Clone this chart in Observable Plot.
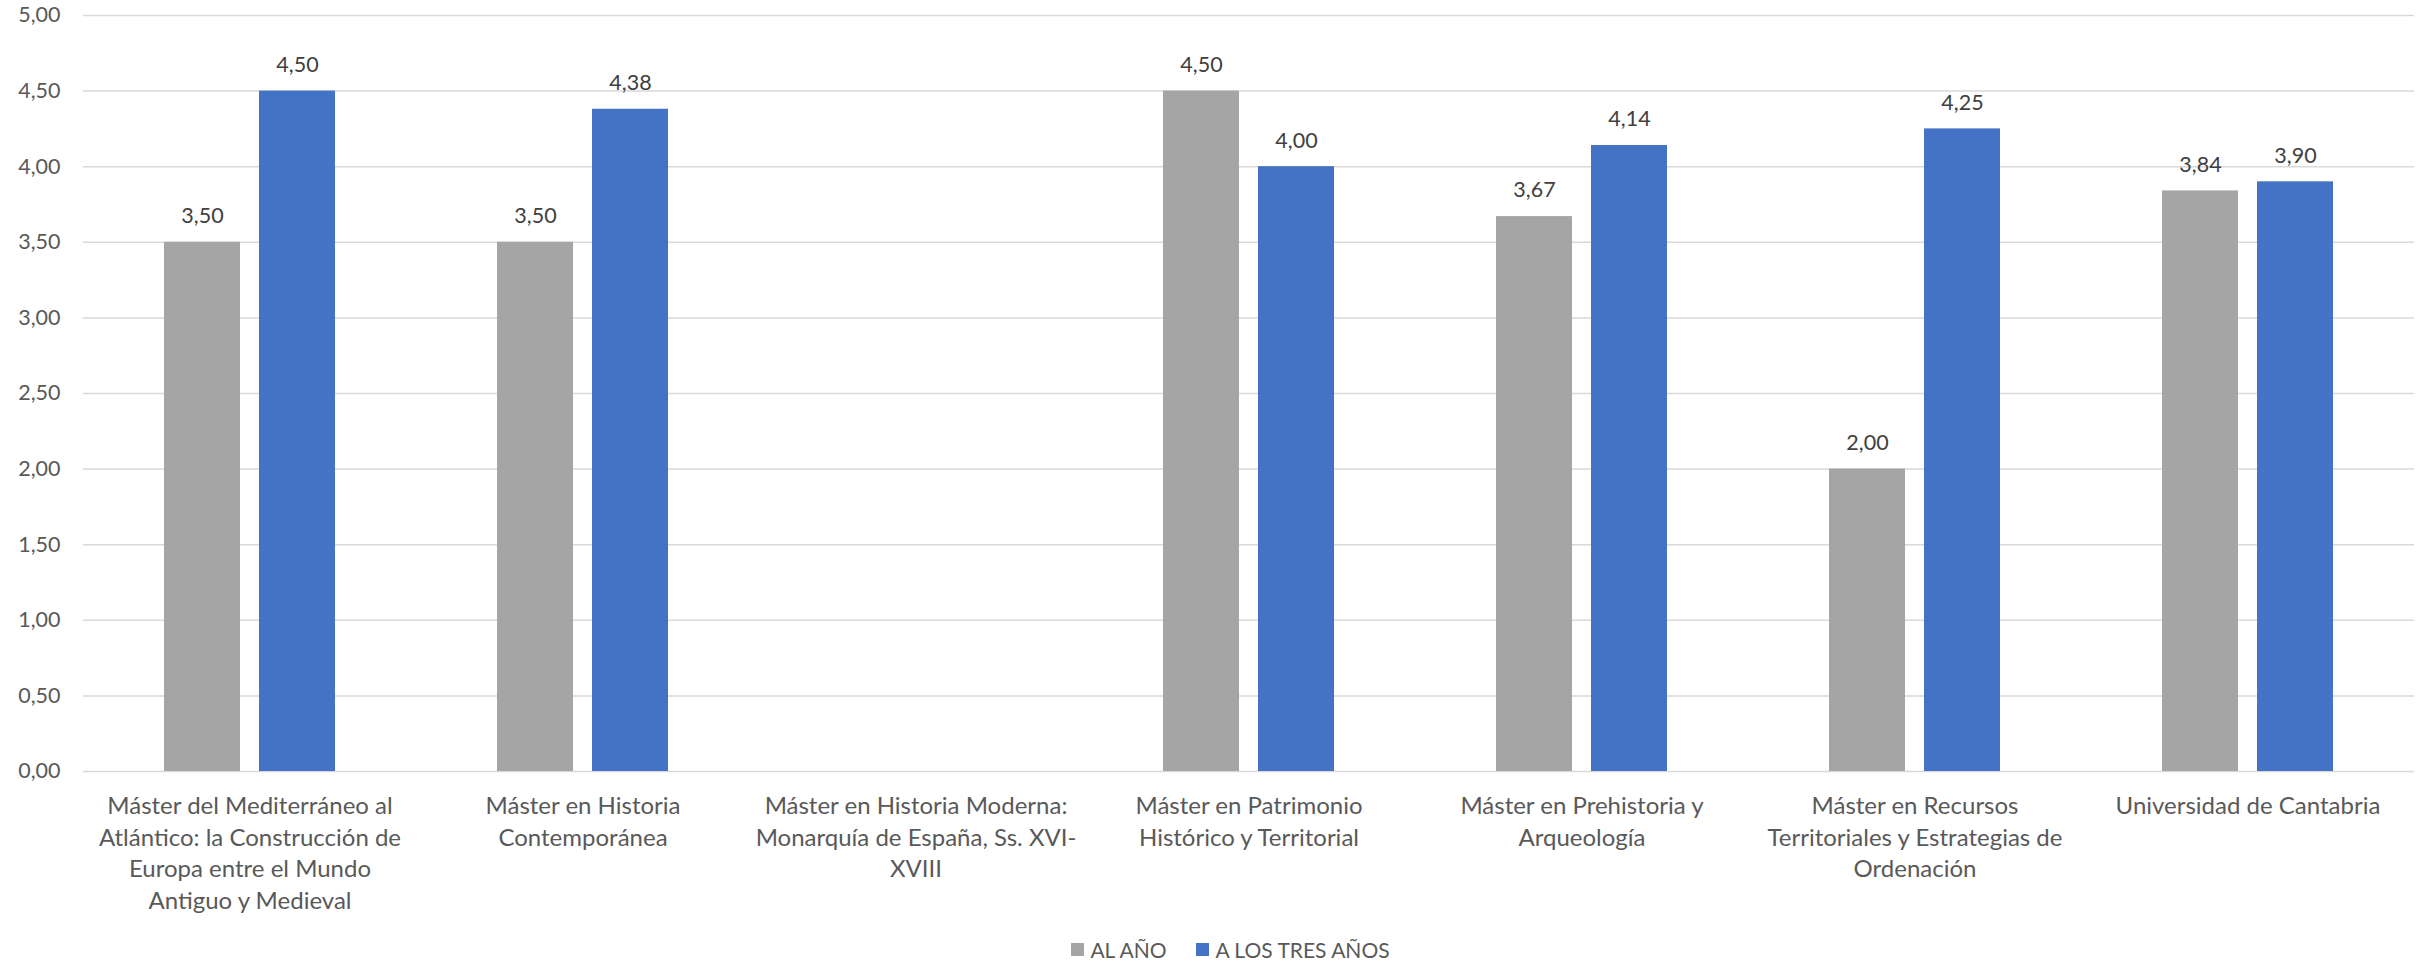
<!DOCTYPE html>
<html><head><meta charset="utf-8">
<script src="https://cdn.jsdelivr.net/npm/d3@7"></script>
<script src="https://cdn.jsdelivr.net/npm/@observablehq/plot@0.6"></script>
<style>
body{margin:0;background:#fff;font-family:Lato,"Noto Sans",sans-serif;}
#legend{width:2425px;height:38px;display:flex;justify-content:center;align-items:center;padding-left:36px;box-sizing:border-box;font-size:21px;color:#595959;}
.item{display:flex;align-items:center;margin:0 15px;}
.sw{width:13px;height:13px;margin-right:6px;display:inline-block;}
</style>
</head><body><div id="chart"></div><div id="legend"></div>
<script>
const categories = [
  "Máster del Mediterráneo al Atlántico: la Construcción de Europa entre el Mundo Antiguo y Medieval",
  "Máster en Historia Contemporánea",
  "Máster en Historia Moderna: Monarquía de España, Ss. XVI-XVIII",
  "Máster en Patrimonio Histórico y Territorial",
  "Máster en Prehistoria y Arqueología",
  "Máster en Recursos Territoriales y Estrategias de Ordenación",
  "Universidad de Cantabria"
];
const categoryLabels = [
  "Máster del Mediterráneo al\nAtlántico: la Construcción de\nEuropa entre el Mundo\nAntiguo y Medieval",
  "Máster en Historia\nContemporánea",
  "Máster en Historia Moderna:\nMonarquía de España, Ss. XVI-\nXVIII",
  "Máster en Patrimonio\nHistórico y Territorial",
  "Máster en Prehistoria y\nArqueología",
  "Máster en Recursos\nTerritoriales y Estrategias de\nOrdenación",
  "Universidad de Cantabria"
];
const series = ["AL AÑO", "A LOS TRES AÑOS"];
const alAnio   = [3.50, 3.50, null, 4.50, 3.67, 2.00, 3.84];
const aLosTres = [4.50, 4.38, null, 4.00, 4.14, 4.25, 3.90];
const yTicks = [0, 0.5, 1, 1.5, 2, 2.5, 3, 3.5, 4, 4.5, 5];
const colors = ["#a5a5a5", "#4472c4"];

const rows = [];
categories.forEach((c, i) => {
  if (alAnio[i] != null) rows.push({cat: c, serie: series[0], value: alAnio[i]});
  if (aLosTres[i] != null) rows.push({cat: c, serie: series[1], value: aLosTres[i]});
});
const gridRows = categories.flatMap(c => yTicks.map(t => ({cat: c, t})));
const fmt = v => v.toFixed(2).replace(".", ",");

const chart = Plot.plot({
  width: 2425, height: 930,
  marginTop: 15, marginBottom: 159, marginLeft: 80, marginRight: 9,
  style: {fontFamily: "Lato, 'Noto Sans', sans-serif", fontSize: "21px", color: "#595959", background: "#fff"},
  fx: {domain: categories, padding: 0, label: null},
  x: {domain: series, paddingInner: 0.2, paddingOuter: 0.845, axis: null},
  y: {domain: [0, 5], label: null},
  color: {domain: series, range: colors},
  marks: [
    Plot.ruleY(gridRows, {fx: "cat", y: "t", stroke: "#d9d9d9", strokeWidth: 1.5}),
    Plot.axisY({ticks: yTicks, tickFormat: fmt, tickSize: 0, tickPadding: 23, label: null, fill: "#595959", fontSize: 21.5}),
    Plot.barY(rows, {fx: "cat", x: "serie", y: "value", fill: "serie"}),
    Plot.text(rows, {fx: "cat", x: "serie", y: "value", text: d => fmt(d.value), dy: -26, fill: "#404040", fontSize: 21.5}),
    Plot.axisFx({anchor: "bottom", tickFormat: c => categoryLabels[categories.indexOf(c)], tickSize: 0, tickPadding: 20, fontSize: 24, lineHeight: 1.32, label: null, fill: "#595959"})
  ]
});
document.getElementById("chart").appendChild(chart);

const legend = document.getElementById("legend");
series.forEach((s, i) => {
  const it = document.createElement("span");
  it.className = "item";
  it.innerHTML = `<span class="sw" style="background:${colors[i]}"></span>${s}`;
  legend.appendChild(it);
});
</script>
</body></html>
